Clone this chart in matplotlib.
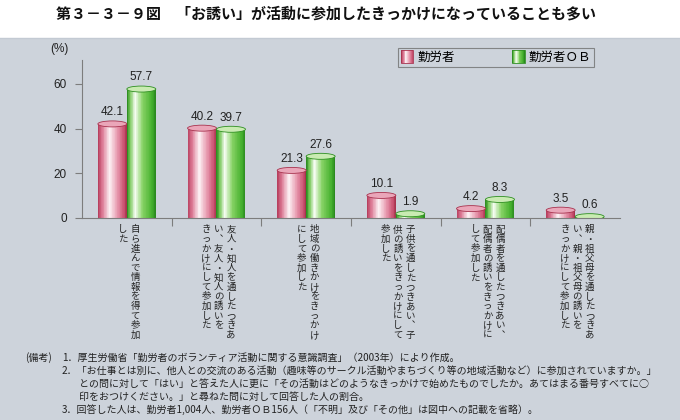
import matplotlib

matplotlib.use("Agg")
import numpy as np
from matplotlib import pyplot as plt
from matplotlib.colors import LinearSegmentedColormap
from matplotlib.legend_handler import HandlerBase
from matplotlib.patches import Ellipse, Rectangle

plt.rcParams["font.family"] = ["Noto Sans CJK JP", "DejaVu Sans"]

# data
categories = [
    ["自ら進んで情報を得て参加", "した"],
    ["友人・知人を通したつきあ", "い︑友人・知人の誘いを", "きっかけにして参加した"],
    ["地域の働きかけをきっかけ", "にして参加した"],
    ["子供を通したつきあい︑子", "供の誘いをきっかけにして", "参加した"],
    ["配偶者を通したつきあい︑", "配偶者の誘いをきっかけに", "して参加した"],
    ["親・祖父母を通したつきあ", "い︑親・祖父母の誘いを", "きっかけにして参加した"],
]
workers = [42.1, 40.2, 21.3, 10.1, 4.2, 3.5]
workers_ob = [57.7, 39.7, 27.6, 1.9, 8.3, 0.6]
series_names = ["勤労者", "勤労者ＯＢ"]
yticks = [0, 20, 40, 60]

title = "第３－３－９図　「お誘い」が活動に参加したきっかけになっていることも多い"
notes = [
    (62, "1．厚生労働省「勤労者のボランティア活動に関する意識調査」（2003年）により作成。"),
    (62, "2．「お仕事とは別に、他人との交流のある活動（趣味等のサークル活動やまちづくり等の地域活動など）に参加されていますか。」"),
    (79, "との問に対して「はい」と答えた人に更に「その活動はどのようなきっかけで始めたものでしたか。あてはまる番号すべてに○"),
    (79, "印をおつけください。」と尋ねた問に対して回答した人の割合。"),
    (62, "3．回答した人は、勤労者1,004人、勤労者ＯＢ156人（「不明」及び「その他」は図中への記載を省略）。"),
]

panel = "#cdd3db"
pink = LinearSegmentedColormap.from_list(
    "pink", [(0, "#b8405f"), (0.15, "#dc7a95"), (0.4, "#fdf2f5"), (0.7, "#e592a9"), (0.92, "#c9506f"), (1, "#a8334f")]
)
green = LinearSegmentedColormap.from_list(
    "green", [(0, "#2f8f22"), (0.1, "#78c85a"), (0.28, "#f6fcf2"), (0.55, "#86d264"), (0.88, "#45b02e"), (1, "#2b8a1f")]
)
tops = [("#eaa6b9", "#a8334f"), ("#c9ebb2", "#2f8f22")]


class Cyl:
    def __init__(self, cmap, edge):
        self.cmap = cmap
        self.edge = edge


class CylHandler(HandlerBase):
    def create_artists(self, legend, orig, xdescent, ydescent, width, height, fontsize, trans):
        n = 14
        w = width
        arts = []
        for j in range(n):
            arts.append(Rectangle((-xdescent + j * w / n, -ydescent - 0.1 * height), w / n, 1.2 * height,
                                  facecolor=orig.cmap(j / (n - 1)), edgecolor="none", transform=trans))
        arts.append(Rectangle((-xdescent, -ydescent - 0.1 * height), w, 1.2 * height, fill=False,
                              edgecolor=orig.edge, lw=0.6, transform=trans))
        return arts


fig = plt.figure(figsize=(6.8, 4.2), dpi=100)
fig.patch.set_facecolor("white")
fig.patches.append(Rectangle((0, 0), 1, 381 / 420, transform=fig.transFigure, facecolor=panel,
                             edgecolor="none", zorder=-10))
fig.lines.append(plt.Line2D([0, 1], [382 / 420, 382 / 420], transform=fig.transFigure, color="#c3cad3", lw=1))

ax = fig.add_axes([82 / 680, 202 / 420, 538 / 680, 158 / 420])
ax.set_facecolor("none")
ymax = 70.7
ax.set_xlim(-0.5, 5.5)
ax.set_ylim(0, ymax)

x = np.arange(len(categories))
bw = 0.323
ell_h = 6 * ymax / 158
nstrip = 40
for k, (vals, cmap) in enumerate([(workers, pink), (workers_ob, green)]):
    xc = x + (k - 0.5) * bw
    for j in range(nstrip):
        ax.bar(xc - bw / 2 + (j + 0.5) * bw / nstrip, vals, width=bw / nstrip * 1.02,
               color=cmap(j / (nstrip - 1)), linewidth=0, zorder=2)
    for xi, v in zip(xc, vals):
        ax.add_patch(Ellipse((xi, v), bw, ell_h, facecolor=tops[k][0], edgecolor=tops[k][1], lw=0.6, zorder=3))
        ax.annotate(f"{v}", (xi, v), xytext=(0, 4), textcoords="offset points", ha="center", va="bottom",
                    fontsize=8.5, family=["Liberation Sans"], color="#222222")

for s in ["top", "right"]:
    ax.spines[s].set_visible(False)
for s in ["left", "bottom"]:
    ax.spines[s].set_color("#7d7d7d")
    ax.spines[s].set_linewidth(0.8)
    ax.spines[s].set_zorder(4)

ax.set_yticks(yticks)
ax.set_yticklabels([str(t) for t in yticks], family=["Liberation Sans"], fontsize=8.5, color="#222222")
ax.tick_params(axis="y", length=5, width=0.8, color="#7d7d7d", pad=6)
ax.set_xticks(np.arange(0.5, 5, 1))
ax.set_xticklabels([])
ax.tick_params(axis="x", length=6, width=0.8, color="#7d7d7d", direction="out")
ax.text(-0.025, 1.03, "(%)", transform=ax.transAxes, ha="right", va="bottom", fontsize=8.5,
        family=["Liberation Sans"], color="#222222")

# vertical category labels, columns right to left
col_pitch = 9.0
char_pitch = 6.9
for i, cols in enumerate(categories):
    n = len(cols)
    for c, col in enumerate(cols):
        dx = 1.5 + (n - 1) / 2 * col_pitch - c * col_pitch
        for r, ch in enumerate(col):
            ax.annotate(ch, (i, 0), xycoords=ax.get_xaxis_transform(), xytext=(dx, -8.6 - r * char_pitch),
                        textcoords="offset points", ha="center", va="center", fontsize=6.8, color="#222222")

leg = ax.legend([Cyl(pink, "#a8334f"), Cyl(green, "#2f8f22")], series_names,
                handler_map={Cyl: CylHandler()}, loc="center", ncol=2,
                bbox_to_anchor=(0.587, 0.956, 0.365, 0.12), mode="expand", fancybox=False,
                handlelength=1.0, handleheight=1.0, handletextpad=0.3, columnspacing=2.5,
                fontsize=9, borderaxespad=0, borderpad=0.25)
leg.get_frame().set_facecolor(panel)
leg.get_frame().set_edgecolor("#707070")
leg.get_frame().set_linewidth(0.8)

fig.text(0.48, 1 - 14 / 420, title, ha="center", va="center", fontsize=10.8, fontweight="bold", color="#111111")

# footnotes
fig.text(25 / 680, 1 - 358 / 420, "(備考)", ha="left", va="center", fontsize=7.2, color="#222222")
for k, (xp, line) in enumerate(notes):
    yp = 358 + k * 13.0
    fig.text(xp / 680, 1 - yp / 420, line, ha="left", va="center", fontsize=7.2, color="#222222")

fig.savefig("out.png", dpi=100, facecolor=fig.get_facecolor())
